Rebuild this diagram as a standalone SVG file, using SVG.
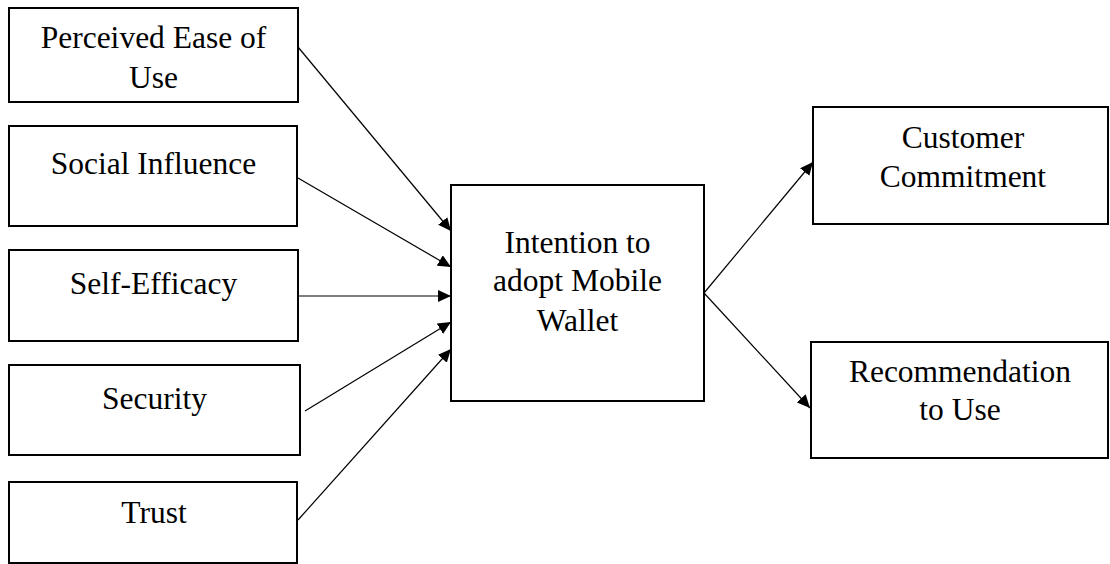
<svg xmlns="http://www.w3.org/2000/svg" width="1110" height="564" viewBox="0 0 1110 564">
  <style>
    .box { fill: #ffffff; stroke: #000000; stroke-width: 2; }
    .lbl { font-size: 31.5px; fill: #000000; text-anchor: middle; }
    .edge { stroke: #000000; stroke-width: 1.2; fill: none; marker-end: url(#arrow); }
  </style>
  <defs>
    <marker id="arrow" markerUnits="userSpaceOnUse" markerWidth="14" markerHeight="12" refX="13" refY="6" orient="auto">
      <path d="M0,0 L13,6 L0,12 z" fill="#000000"/>
    </marker>
  </defs>
  <rect width="1110" height="564" fill="#ffffff"/>

  <g id="connectors">
    <line class="edge" x1="298" y1="47" x2="451" y2="231"/>
    <line class="edge" x1="298" y1="178" x2="451" y2="267"/>
    <line class="edge" x1="298" y1="296" x2="451" y2="296"/>
    <line class="edge" x1="305" y1="411" x2="451" y2="322"/>
    <line class="edge" x1="298" y1="520" x2="451" y2="349"/>
    <line class="edge" x1="704" y1="293" x2="813" y2="162"/>
    <line class="edge" x1="704" y1="293" x2="810" y2="408"/>
  </g>

  <g font-family="Liberation Serif, Tinos, DejaVu Serif, serif">
    <g id="perceived-ease-of-use">
      <rect class="box" x="9" y="8" width="289" height="94"/>
      <text class="lbl" x="153.5" y="48">Perceived Ease of</text>
      <text class="lbl" x="153.5" y="88">Use</text>
    </g>

    <g id="social-influence">
      <rect class="box" x="9" y="126" width="288" height="100"/>
      <text class="lbl" x="153.5" y="174">Social Influence</text>
    </g>

    <g id="self-efficacy">
      <rect class="box" x="9" y="250" width="289" height="91"/>
      <text class="lbl" x="153.5" y="294">Self-Efficacy</text>
    </g>

    <g id="security">
      <rect class="box" x="9" y="365" width="291" height="90"/>
      <text class="lbl" x="154.5" y="409">Security</text>
    </g>

    <g id="trust">
      <rect class="box" x="9" y="482" width="288" height="81"/>
      <text class="lbl" x="154" y="523">Trust</text>
    </g>

    <g id="intention">
      <rect class="box" x="451" y="185" width="253" height="216"/>
      <text class="lbl" x="577.5" y="253">Intention to</text>
      <text class="lbl" x="577.5" y="291">adopt Mobile</text>
      <text class="lbl" x="577.5" y="331">Wallet</text>
    </g>

    <g id="customer-commitment">
      <rect class="box" x="813" y="107" width="295" height="117"/>
      <text class="lbl" x="963" y="148">Customer</text>
      <text class="lbl" x="963" y="187">Commitment</text>
    </g>

    <g id="recommendation">
      <rect class="box" x="811" y="342" width="297" height="116"/>
      <text class="lbl" x="960" y="382">Recommendation</text>
      <text class="lbl" x="960" y="420">to Use</text>
    </g>
  </g>
</svg>
